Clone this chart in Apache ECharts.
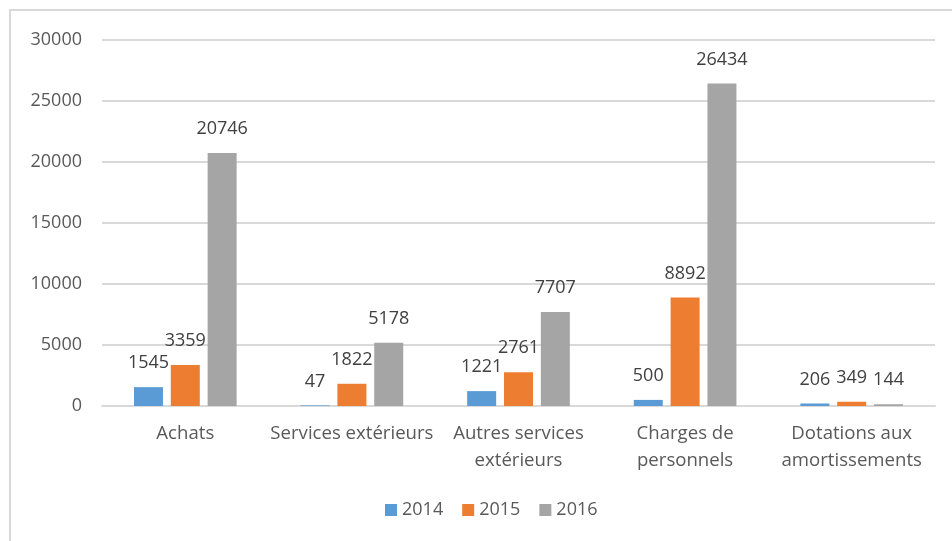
<!DOCTYPE html>
<html>
<head>
<meta charset="utf-8">
<script src="https://cdn.jsdelivr.net/npm/echarts@6/dist/echarts.min.js"></script>
<style>
html,body{margin:0;padding:0;background:#fff;}
#chart{width:952px;height:541px;}
</style>
</head>
<body>
<div id="chart"></div>
<script>
const categories = ['Achats', 'Services extérieurs', 'Autres services\nextérieurs', 'Charges de\npersonnels', 'Dotations aux\namortissements'];
const seriesNames = ['2014', '2015', '2016'];
const values2014 = [1545, 47, 1221, 500, 206];
const values2015 = [3359, 1822, 2761, 8892, 349];
const values2016 = [20746, 5178, 7707, 26434, 144];
const yTicks = [0, 5000, 10000, 15000, 20000, 25000, 30000];

const colors = ['#5B9BD5', '#ED7D31', '#A5A5A5'];
const font = '"Open Sans", "Liberation Sans", sans-serif';
const chart = echarts.init(document.getElementById('chart'), null, {renderer: 'canvas'});

function mkSeries(name, data, color) {
  return {
    name: name,
    type: 'bar',
    data: data,
    barWidth: 29,
    barGap: '27%',
    itemStyle: {color: color},
    label: {
      show: true,
      position: 'top',
      distance: 15,
      color: '#404040',
      fontSize: 18,
      fontFamily: font
    }
  };
}

chart.setOption({
  animation: false,
  backgroundColor: '#fff',
  textStyle: {fontFamily: font},
  graphic: [{
    type: 'rect',
    shape: {x: 10, y: 10, width: 980, height: 600},
    style: {fill: 'none', stroke: '#d9d9d9', lineWidth: 2},
    silent: true,
    z: -1
  }],
  grid: {left: 102, right: 17, top: 40, bottom: 135, containLabel: false},
  legend: {
    data: seriesNames,
    left: 380,
    top: 496,
    icon: 'rect',
    itemWidth: 12,
    itemHeight: 12,
    itemGap: 19,
    textStyle: {color: '#595959', fontSize: 18, fontFamily: font}
  },
  xAxis: {
    type: 'category',
    data: categories,
    axisLine: {lineStyle: {color: '#d9d9d9', width: 2}},
    axisTick: {show: false},
    axisLabel: {
      color: '#595959',
      fontSize: 18.6,
      fontFamily: font,
      lineHeight: 27,
      margin: 14,
      interval: 0
    }
  },
  yAxis: {
    type: 'value',
    min: yTicks[0],
    max: yTicks[yTicks.length - 1],
    interval: 5000,
    axisLine: {show: false},
    axisTick: {show: false},
    splitLine: {lineStyle: {color: '#d9d9d9', width: 2}},
    axisLabel: {
      color: '#595959', fontSize: 18, fontFamily: font, margin: 20,
      formatter: function (v) { return String(v); }
    }
  },
  series: [
    mkSeries(seriesNames[0], values2014, colors[0]),
    mkSeries(seriesNames[1], values2015, colors[1]),
    mkSeries(seriesNames[2], values2016, colors[2])
  ]
});
</script>
</body>
</html>
